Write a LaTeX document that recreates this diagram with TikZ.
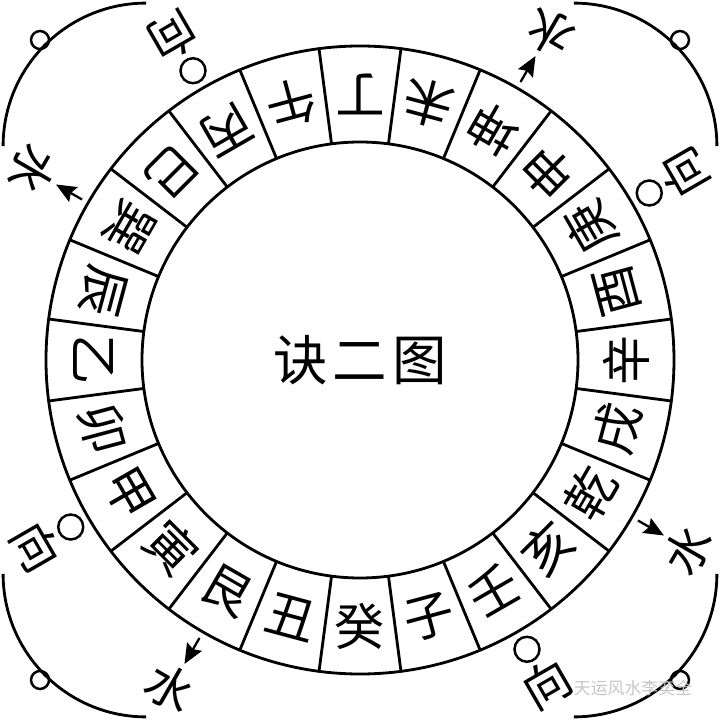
\documentclass[tikz,border=0pt]{standalone}
\usepackage{fontspec}
\newfontfamily\cjk{Noto Sans CJK SC}
\usetikzlibrary{arrows.meta}

\begin{document}
\begin{tikzpicture}[line width=1.6pt,
  shan/.style={font=\cjk\fontsize{28.5}{28.5}\selectfont},
  biao/.style={font=\cjk\fontsize{27}{27}\selectfont}]
 \useasboundingbox (-7.2,-7.2) rectangle (7.2,7.2);
 \draw (0,0) circle (4.36);
 \draw (0,0) circle (6.28);
 \foreach \a in {7.5,22.5,...,352.5}
  \draw (\a:4.36) -- (\a:6.28);
 \foreach \name [count=\i from 0] in {丁,午,丙,巳,巽,辰,乙,卯,甲,寅,艮,丑,癸,子,壬,亥,乾,戌,辛,酉,庚,申,坤,未}
  \node[shan,rotate=180+15*\i] (s\i) at (90+15*\i:5.32) {\name};
 \node[font=\cjk\fontsize{31}{31}\selectfont] (ming) at (0,0) {诀\hspace{0.1cm}二\hspace{0.1cm}图};

 % corners: 向 and 水
 \foreach \ja/\jx/\js in {135/120/150,45/30/60,225/210/240,315/300/330}{
  \draw ([shift={(\ja:6.05)}]\ja-45:2.86) arc[start angle=\ja-45,end angle=\ja+45,radius=2.86];
  \draw[line width=1.4pt] ([shift={(\ja:6.05)}]\ja:3.0) circle (0.18);
  \draw[line width=1.4pt] (\jx:6.68) circle (0.25);
  \node[biao,rotate=\jx+90] (xiang\ja) at (\jx:7.48) {向};
  \node[biao,rotate=\js+90] (shui\ja) at (\js:7.58) {水};
  \coordinate (w\ja) at (\js:6.42);
  \coordinate (h\ja) at (\js:7.02);
  \draw[line width=1.3pt,-{Stealth[length=4mm,width=3.4mm,inset=0.6mm]}] (w\ja) -- (h\ja);
 }
 \node[text=gray!45,font=\cjk\fontsize{9.6}{9.6}\selectfont] (yin) at (5.46,-6.56) {天运风水李奕全};
\end{tikzpicture}
\end{document}
